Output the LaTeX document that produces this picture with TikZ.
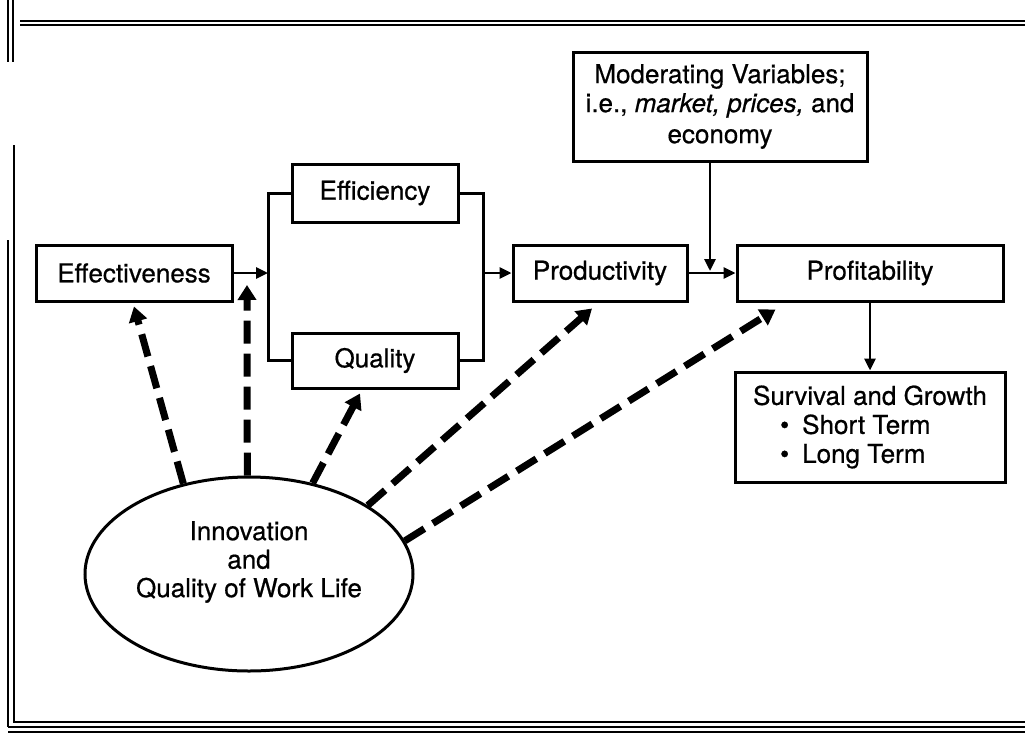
\documentclass[tikz,border=0pt]{standalone}
\usepackage{fontspec}
\setmainfont{TeX Gyre Heros}[FakeBold=0.6]
\usetikzlibrary{arrows.meta,shapes.geometric}
\begin{document}
\begin{tikzpicture}[x=1pt,y=-1pt,
  box/.style={draw,line width=3pt,inner sep=0pt,align=center,font=\fontsize{26}{29}\selectfont},
  conn/.style={line width=2.8pt,-{Triangle[length=12pt,width=11pt]}},
  plain/.style={line width=3pt},
  dasharrow/.style={line width=7pt,dash pattern=on 23pt off 10pt,-{Triangle[length=15pt,width=18pt]}},
  frame/.style={line width=2pt},
  txt/.style={align=center,font=\fontsize{26}{28.5}\selectfont,inner sep=0pt}]
\useasboundingbox (0,0) rectangle (1025,734);
% frame
\draw[frame] (20,20.5) -- (1025,20.5);
\draw[frame] (20,25) -- (1025,25);
\draw[frame] (8,0) -- (8,62);
\draw[frame] (13,0) -- (13,62);
\draw[frame] (14,145) -- (14,722) -- (1025,722);
\draw[frame,line width=1.3pt] (8,240) -- (8,727);
\draw[frame] (8,727) -- (1025,727);
\draw[frame] (8,732) -- (1025,732);
% nodes
\node[box,minimum width=196pt,minimum height=56pt] (eff) at (134,273) {Effectiveness};
\node[box,minimum width=166pt,minimum height=58pt] (effi) at (375,193) {Efficiency};
\node[box,minimum width=166pt,minimum height=55pt] (qual) at (375,360.5) {Quality};
\node[box,minimum width=174pt,minimum height=56pt] (prod) at (600,273) {Productivity};
\node[box,minimum width=266pt,minimum height=56pt] (prof) at (870,273) {Profitability};
\node[box,minimum width=294pt,minimum height=109pt] (mod) at (720,106.5) {Moderating Variables;\\ i.e., \textit{market, prices,} and\\[2pt] economy};
\node[box,minimum width=270pt,minimum height=110pt,align=left] (surv) at (870,427) {Survival and Growth\\ \hspace*{27pt}\textbullet\hspace{13pt}Short Term\\ \hspace*{27pt}\textbullet\hspace{13pt}Long Term};
\node[draw,ellipse,line width=3pt,minimum width=328pt,minimum height=194pt,inner sep=0pt] (inn) at (249,574) {};
\node[txt] (inntext) at (249,562) {Innovation\\ and\\ Quality of Work Life};
% bracket coordinates
\coordinate (bl) at (268,273);
\coordinate (br) at (483,273);
\draw[plain] (effi.west) -- (effi.west -| bl) -- (qual.west -| bl) -- (qual.west);
\draw[plain] (effi.east) -- (effi.east -| br) -- (qual.east -| br) -- (qual.east);
% solid arrows
\draw[conn] (eff.east) -- (bl);
\draw[conn] (br) -- (prod.west);
\draw[conn] (prod.east) -- (prof.west);
\coordinate (mtop) at (710,161);
\coordinate (mbot) at (710,271);
\draw[conn] (mtop) -- (mbot);
\draw[conn] (prof.south) -- (surv.north);
% dashed arrows
\coordinate (t2) at (247,285);
\draw[dasharrow] (inn.126) -- ([yshift=-4pt]eff.south);
\draw[dasharrow] (inn.91.5) -- (t2);
\draw[dasharrow] (inn.55) -- ([xshift=-15pt,yshift=-4pt]qual.south);
\draw[dasharrow] (inn.30) -- ([xshift=-8pt,yshift=-6pt]prod.south);
\draw[dasharrow] (inn.12) -- ([xshift=40pt,yshift=-7pt]prof.south west);
\end{tikzpicture}
\end{document}
